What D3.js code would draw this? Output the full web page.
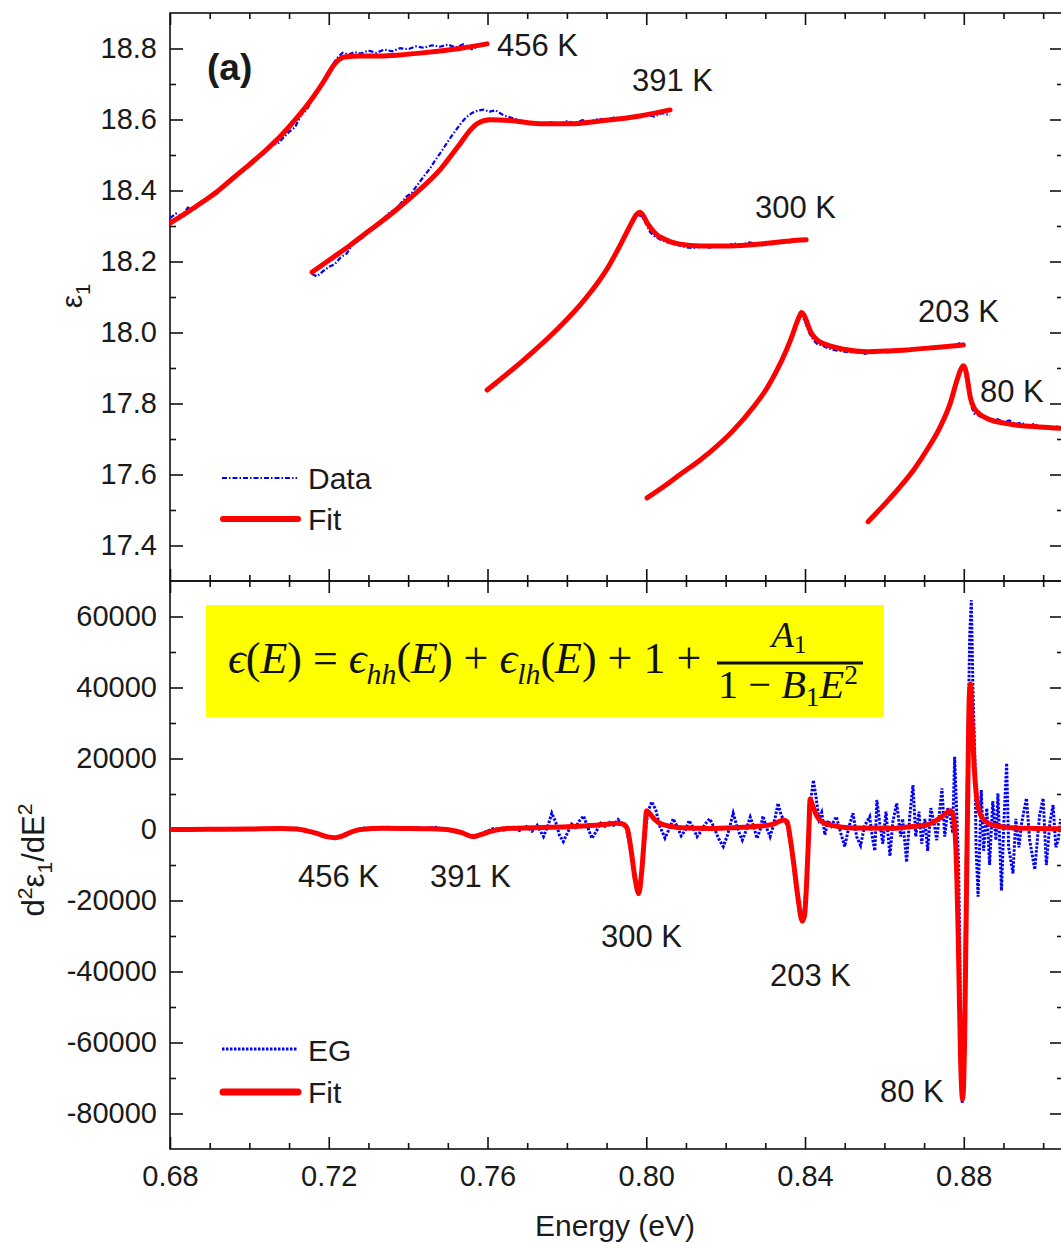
<!DOCTYPE html>
<html>
<head>
<meta charset="utf-8">
<script src="https://cdn.jsdelivr.net/npm/d3@7"></script>
<style>
    html, body { margin: 0; padding: 0; background: #fff; }
    svg { display: block; font-family: "Liberation Sans", Arial, sans-serif; }
    text { white-space: pre; }
</style>
</head>
<body>
<div id="chart"></div>
<script>
// ---- Top panel: eps1 data and fits, [energy eV, eps1] ----
const data456 = [
    [0.680, 18.322], [0.6815, 18.335], [0.683, 18.328], [0.6845, 18.352], [0.686, 18.345], [0.6875, 18.368],
    [0.689, 18.372], [0.6905, 18.384], [0.692, 18.392], [0.6935, 18.412], [0.695, 18.423], [0.6965, 18.445],
    [0.698, 18.448], [0.6995, 18.470], [0.701, 18.478], [0.7025, 18.495], [0.704, 18.505], [0.7055, 18.532],
    [0.707, 18.530], [0.7085, 18.548], [0.710, 18.565], [0.7115, 18.578], [0.713, 18.612], [0.7145, 18.628],
    [0.716, 18.660], [0.7175, 18.690], [0.719, 18.718], [0.7205, 18.745], [0.722, 18.772], [0.7235, 18.788],
    [0.725, 18.783], [0.7265, 18.790], [0.728, 18.786], [0.730, 18.794], [0.732, 18.788], [0.734, 18.797],
    [0.736, 18.792], [0.738, 18.801], [0.740, 18.798], [0.742, 18.806], [0.744, 18.802], [0.746, 18.809],
    [0.748, 18.805], [0.750, 18.811], [0.752, 18.803], [0.754, 18.812], [0.756, 18.798], [0.758, 18.808],
    [0.7599, 18.815]
];
const fit456 = [
    [0.680, 18.308], [0.684, 18.336], [0.688, 18.366], [0.692, 18.398], [0.696, 18.436], [0.700, 18.473],
    [0.704, 18.512], [0.708, 18.555], [0.712, 18.605], [0.716, 18.662], [0.719, 18.712], [0.7212, 18.752],
    [0.7225, 18.768], [0.724, 18.776], [0.728, 18.779], [0.733, 18.779], [0.738, 18.782], [0.743, 18.787],
    [0.748, 18.793], [0.753, 18.800], [0.7599, 18.813]
];
const data391 = [
    [0.7158, 18.165], [0.717, 18.158], [0.7185, 18.172], [0.720, 18.185], [0.7215, 18.192], [0.723, 18.212],
    [0.7245, 18.222], [0.726, 18.248], [0.7275, 18.258], [0.729, 18.272], [0.7305, 18.290], [0.732, 18.302],
    [0.7335, 18.318], [0.735, 18.335], [0.7365, 18.345], [0.738, 18.362], [0.7395, 18.382], [0.741, 18.395],
    [0.7425, 18.418], [0.744, 18.440], [0.7455, 18.462], [0.747, 18.488], [0.7485, 18.512], [0.750, 18.538],
    [0.7515, 18.562], [0.753, 18.585], [0.7545, 18.605], [0.756, 18.618], [0.7575, 18.625], [0.759, 18.628],
    [0.7605, 18.622], [0.762, 18.626], [0.764, 18.612], [0.766, 18.605], [0.768, 18.598], [0.770, 18.592],
    [0.772, 18.590], [0.774, 18.585], [0.776, 18.592], [0.778, 18.587], [0.780, 18.595], [0.782, 18.590],
    [0.784, 18.598], [0.786, 18.594], [0.788, 18.602], [0.790, 18.598], [0.792, 18.606], [0.794, 18.602],
    [0.796, 18.610], [0.798, 18.605], [0.800, 18.614], [0.802, 18.608], [0.804, 18.618], [0.806, 18.612]
];
const fit391 = [
    [0.7158, 18.170], [0.7205, 18.207], [0.7254, 18.246], [0.730, 18.285], [0.7354, 18.331], [0.740, 18.374],
    [0.743, 18.403], [0.748, 18.458], [0.7531, 18.532], [0.7555, 18.568], [0.7575, 18.589], [0.7606, 18.599],
    [0.7657, 18.597], [0.7732, 18.588], [0.7808, 18.588], [0.7884, 18.596], [0.7984, 18.610], [0.806, 18.627]
];
const data300 = [
    [0.7605, 17.842], [0.762, 17.850], [0.7635, 17.868], [0.765, 17.888], [0.7665, 17.900], [0.768, 17.912],
    [0.7695, 17.925], [0.771, 17.938], [0.7725, 17.955], [0.774, 17.970], [0.7755, 17.985], [0.777, 18.002],
    [0.7785, 18.018], [0.780, 18.038], [0.7815, 18.055], [0.783, 18.075], [0.7845, 18.095], [0.786, 18.118],
    [0.7875, 18.138], [0.789, 18.162], [0.7905, 18.188], [0.792, 18.218], [0.7935, 18.250], [0.795, 18.282],
    [0.7965, 18.312], [0.7978, 18.332], [0.799, 18.326], [0.800, 18.305], [0.801, 18.282], [0.802, 18.272],
    [0.8035, 18.262], [0.805, 18.255], [0.8065, 18.250], [0.808, 18.246], [0.810, 18.240], [0.812, 18.238],
    [0.814, 18.242], [0.816, 18.239], [0.818, 18.246], [0.820, 18.243], [0.822, 18.251], [0.824, 18.247],
    [0.826, 18.254], [0.828, 18.249], [0.830, 18.255], [0.832, 18.252], [0.834, 18.258], [0.836, 18.254],
    [0.838, 18.260], [0.840, 18.258]
];
const fit300 = [
    [0.7599, 17.838], [0.764, 17.875], [0.7682, 17.914], [0.772, 17.951], [0.7758, 17.990], [0.7795, 18.031],
    [0.7833, 18.077], [0.786, 18.114], [0.7884, 18.150], [0.7905, 18.186], [0.7921, 18.218], [0.7937, 18.252],
    [0.7952, 18.285], [0.7965, 18.313], [0.7975, 18.332], [0.7984, 18.339], [0.7992, 18.330], [0.8002, 18.309],
    [0.8015, 18.289], [0.8028, 18.274], [0.804, 18.266], [0.806, 18.256], [0.8085, 18.249], [0.8136, 18.244],
    [0.8211, 18.244], [0.8287, 18.249], [0.8362, 18.258], [0.8403, 18.261]
];
const data203 = [
    [0.8005, 17.538], [0.802, 17.548], [0.8035, 17.556], [0.805, 17.570], [0.8065, 17.580], [0.808, 17.596],
    [0.8095, 17.605], [0.811, 17.620], [0.8125, 17.630], [0.814, 17.645], [0.8155, 17.655], [0.817, 17.672],
    [0.8185, 17.688], [0.820, 17.702], [0.8215, 17.722], [0.823, 17.738], [0.8245, 17.755], [0.826, 17.775],
    [0.8275, 17.798], [0.829, 17.820], [0.8305, 17.845], [0.832, 17.875], [0.8335, 17.905], [0.835, 17.942],
    [0.8365, 17.985], [0.8378, 18.025], [0.839, 18.050], [0.840, 18.030], [0.841, 18.000], [0.842, 17.980],
    [0.843, 17.968], [0.8445, 17.962], [0.846, 17.955], [0.8475, 17.950], [0.849, 17.948], [0.851, 17.944],
    [0.853, 17.946], [0.855, 17.940], [0.857, 17.945], [0.859, 17.948], [0.861, 17.944], [0.863, 17.952],
    [0.865, 17.948], [0.867, 17.956], [0.869, 17.952], [0.871, 17.958], [0.873, 17.955], [0.875, 17.962],
    [0.877, 17.960], [0.879, 17.970], [0.880, 17.968]
];
const fit203 = [
    [0.8002, 17.534], [0.8045, 17.567], [0.8085, 17.600], [0.8136, 17.641], [0.8186, 17.688], [0.822, 17.725],
    [0.827, 17.790], [0.8304, 17.843], [0.8329, 17.893], [0.8354, 17.953], [0.8367, 17.989], [0.8379, 18.027],
    [0.8386, 18.046], [0.8391, 18.056], [0.8397, 18.050], [0.8404, 18.032], [0.8412, 18.007], [0.8421, 17.990],
    [0.8435, 17.975], [0.8455, 17.965], [0.8497, 17.953], [0.8556, 17.946], [0.861, 17.948], [0.8657, 17.951],
    [0.873, 17.958], [0.8799, 17.965]
];
const data80 = [
    [0.8562, 17.475], [0.8575, 17.490], [0.859, 17.502], [0.8605, 17.520], [0.862, 17.538], [0.8635, 17.560],
    [0.865, 17.578], [0.8665, 17.600], [0.868, 17.622], [0.8695, 17.648], [0.871, 17.675], [0.8725, 17.700],
    [0.874, 17.732], [0.8755, 17.768], [0.877, 17.812], [0.8782, 17.858], [0.879, 17.888], [0.880, 17.900],
    [0.881, 17.850], [0.8818, 17.795], [0.8826, 17.772], [0.8835, 17.768], [0.8845, 17.760], [0.8855, 17.758],
    [0.887, 17.752], [0.8885, 17.756], [0.890, 17.748], [0.8915, 17.752], [0.893, 17.742], [0.8945, 17.746],
    [0.896, 17.738], [0.8975, 17.742], [0.899, 17.735], [0.9005, 17.738], [0.902, 17.732], [0.9035, 17.735],
    [0.905, 17.730]
];
const fit80 = [
    [0.8559, 17.467], [0.8606, 17.523], [0.864, 17.566], [0.8675, 17.615], [0.8707, 17.669], [0.8741, 17.735],
    [0.8766, 17.801], [0.8783, 17.866], [0.8792, 17.895], [0.8799, 17.906], [0.8805, 17.893], [0.881, 17.862],
    [0.8816, 17.820], [0.8824, 17.792], [0.8833, 17.777], [0.885, 17.763], [0.8867, 17.754], [0.890, 17.745],
    [0.8934, 17.739], [0.899, 17.734], [0.905, 17.730]
];
const topData = [data456, data391, data300, data203, data80];
const topFits = [fit456, fit391, fit300, fit203, fit80];

// ---- Bottom panel: second derivative, [energy eV, d2eps/dE2] ----
const egData = [
    [0.680, 0], [0.686, 150], [0.692, -100], [0.698, 300], [0.702, 100], [0.706, 400], [0.710, 200],
    [0.7135, -200], [0.716, -900], [0.719, -2000], [0.7216, -2500], [0.724, -1300], [0.7265, -200],
    [0.729, 400], [0.732, 200], [0.735, 600], [0.738, 100], [0.741, 500], [0.744, 300], [0.747, 600],
    [0.750, -200], [0.7535, -1000], [0.7564, -2200], [0.759, -900], [0.7615, 300], [0.764, -200], [0.766, 500],
    [0.768, -300], [0.7698, 800], [0.7712, -500], [0.7725, 1200], [0.7741, -2000], [0.7752, 1000],
    [0.7762, 4600], [0.7772, 2000], [0.7781, -1500], [0.7791, -3400], [0.7802, -800], [0.7812, 1500],
    [0.7822, 600], [0.7832, 2500], [0.7842, 3800], [0.7852, 800], [0.7863, -2500], [0.7874, -500],
    [0.7885, 1800], [0.7896, 900], [0.7907, 2000], [0.7918, 1200], [0.7929, 2800], [0.794, 1600], [0.795, 200],
    [0.796, -5500], [0.797, -13500], [0.798, -18500], [0.7988, -13000], [0.7996, -2500], [0.8004, 5000],
    [0.8014, 7800], [0.8024, 5500], [0.8034, 1000], [0.8047, -2400], [0.8058, 200], [0.8068, 3000],
    [0.8078, 800], [0.8088, -1800], [0.8098, -300], [0.8108, 2500], [0.8118, 500], [0.8128, -2000],
    [0.8138, -500], [0.8148, 1500], [0.816, 3000], [0.817, 800], [0.8182, -2500], [0.8194, -4800],
    [0.8205, -1500], [0.8212, 1500], [0.8219, 4600], [0.8228, 1000], [0.8236, -1500], [0.8242, -3000],
    [0.825, -800], [0.8256, 1500], [0.8262, 3500], [0.827, 1000], [0.8279, -2500], [0.8287, 0],
    [0.8294, 3800], [0.8303, 500], [0.8312, -2000], [0.832, 1000], [0.8326, 4000], [0.8332, 7400],
    [0.834, 4000], [0.8348, 2500], [0.8356, 1000], [0.8366, -6000], [0.8376, -15500], [0.8386, -23500],
    [0.8395, -26000], [0.8402, -17000], [0.8409, -3000], [0.8416, 9500], [0.8421, 13900], [0.8428, 9000],
    [0.8435, 3000], [0.8442, 4800], [0.845, -1500], [0.8458, 2500], [0.8466, 1000], [0.8479, 3600],
    [0.849, -1000], [0.850, -4800], [0.851, 500], [0.8521, 4600], [0.853, -2000], [0.854, -4500],
    [0.855, 1000], [0.8563, 3600], [0.857, -2500], [0.8576, -6000], [0.8581, 8300], [0.8588, 2000],
    [0.8596, -4000], [0.8604, 5000], [0.8614, -7500], [0.8621, 2000], [0.8631, 7400], [0.8641, -2000],
    [0.8646, 3000], [0.8656, -9200], [0.8664, 4000], [0.8672, 12500], [0.8679, -2000], [0.8687, 5000],
    [0.8694, -4000], [0.8702, 3000], [0.8709, -6000], [0.8717, 6000], [0.8725, 2000], [0.8732, -3000],
    [0.8745, 11600], [0.8752, -2000], [0.876, 6000], [0.8767, 3000], [0.8772, -1000], [0.8777, 20500],
    [0.8782, 5000], [0.8787, -10000], [0.8792, -50000], [0.8796, -77000], [0.880, -60000], [0.8805, -20000],
    [0.881, 20000], [0.8815, 55000], [0.8819, 64600], [0.8823, 40000], [0.8828, 20000], [0.8831, -5000],
    [0.8836, -18900], [0.884, -5000], [0.8844, 11100], [0.885, -6000], [0.8858, 6000], [0.8865, -10000],
    [0.8873, 8000], [0.8881, -3000], [0.8886, 10200], [0.8895, -17200], [0.8901, 2000], [0.8908, 18700],
    [0.8913, -5000], [0.8924, -12400], [0.8931, 3000], [0.8939, -5000], [0.8946, 2000], [0.8958, 8800],
    [0.8966, -3000], [0.8979, -11300], [0.8986, -2000], [0.8991, 4000], [0.900, 8800], [0.9008, -10000],
    [0.9017, 2000], [0.9025, 6900], [0.9032, -5000], [0.9038, -2900], [0.9044, 3000]
];
const egFit = [
    [0.680, 0], [0.690, 50], [0.700, 150], [0.708, 250], [0.712, 150], [0.7145, -400], [0.717, -1100],
    [0.7195, -2000], [0.7216, -2300], [0.7235, -1800], [0.7255, -800], [0.728, 0], [0.7338, 330],
    [0.740, 300], [0.746, 200], [0.7506, -150], [0.7535, -900], [0.7564, -2000], [0.7585, -1400],
    [0.7606, -600], [0.7649, 300], [0.7673, 350], [0.775, 600], [0.7842, 1000], [0.7895, 1400],
    [0.7926, 1750], [0.7942, 1500], [0.7952, 300], [0.7962, -6000], [0.7972, -14000], [0.7981, -18000],
    [0.7988, -12500], [0.7995, -2500], [0.8001, 5300], [0.8008, 4600], [0.8018, 3200], [0.803, 2000],
    [0.806, 900], [0.810, 400], [0.816, 300], [0.822, 500], [0.828, 900], [0.832, 1500], [0.8346, 2700],
    [0.8355, 2200], [0.8362, -2000], [0.8372, -10000], [0.8382, -19000], [0.8393, -25800], [0.8399, -24000],
    [0.8404, -15000], [0.8409, -2000], [0.8413, 8600], [0.8419, 6800], [0.8428, 4200], [0.844, 2400],
    [0.847, 1100], [0.852, 450], [0.8623, 350], [0.8665, 800], [0.8707, 1300], [0.8741, 3300],
    [0.8757, 4700], [0.8766, 5300], [0.8773, 4200], [0.878, -5000], [0.8786, -30000], [0.8792, -65000],
    [0.8797, -76000], [0.8802, -60000], [0.8806, -25000], [0.881, 10000], [0.8814, 38000], [0.8817, 41000],
    [0.8821, 30000], [0.8826, 18000], [0.8832, 9500], [0.8841, 4500], [0.8855, 2200], [0.8875, 1200],
    [0.892, 500], [0.898, 300], [0.905, 200]
];

// ---- Ticks and labels ----
const xMajorTicks = [0.68, 0.72, 0.76, 0.80, 0.84, 0.88];
const xMinorTicks = [0.69, 0.70, 0.71, 0.73, 0.74, 0.75, 0.77, 0.78, 0.79, 0.81, 0.82, 0.83, 0.85, 0.86, 0.87, 0.89, 0.90];
const topMajorTicks = [17.4, 17.6, 17.8, 18.0, 18.2, 18.4, 18.6, 18.8];
const topMinorTicks = [17.5, 17.7, 17.9, 18.1, 18.3, 18.5, 18.7];
const botMajorTicks = [-80000, -60000, -40000, -20000, 0, 20000, 40000, 60000];
const botMinorTicks = [-70000, -50000, -30000, -10000, 10000, 30000, 50000];
const tempLabels = ['456 K', '391 K', '300 K', '203 K', '80 K'];
const topLegend = ['Data', 'Fit'];
const botLegend = ['EG', 'Fit'];

// ---- Layout ----
const width = 1061, height = 1243;
const plotLeft = 170, plotRight = 1063;
const topY0 = 13, midY = 581, botY1 = 1149;
const topLabelPos = [[497, 56], [632, 91], [755, 218], [918, 322], [980, 402]];
const botLabelPos = [[298, 887], [430, 887], [601, 947], [770, 986], [880, 1102]];
const textColor = '#1a1a1a';
const blue = '#0000ff', red = '#ff0000';

const x = d3.scaleLinear().domain([0.68, 0.905]).range([plotLeft, plotRight]);
const yTop = d3.scaleLinear().domain([17.3, 18.9]).range([midY, topY0]);
const yBot = d3.scaleLinear().domain([-90000, 70000]).range([botY1, midY]);

const svg = d3.select('#chart')
    .append('svg')
    .attr('width', width)
    .attr('height', height);

// clip paths per panel
const defs = svg.append('defs');
defs.append('clipPath').attr('id', 'clipTop')
    .append('rect').attr('x', plotLeft).attr('y', topY0).attr('width', plotRight - plotLeft).attr('height', midY - topY0);
defs.append('clipPath').attr('id', 'clipBot')
    .append('rect').attr('x', plotLeft).attr('y', midY).attr('width', plotRight - plotLeft).attr('height', botY1 - midY);

// axis helper: draws ticks only, frame drawn separately
function tickAxis(axisFn, scale, values, size, translate, fmt, pad) {
    const axis = axisFn(scale)
        .tickValues(values)
        .tickSizeInner(size)
        .tickSizeOuter(0)
        .tickPadding(pad || 0)
        .tickFormat(fmt || (() => ''));
    const g = svg.append('g')
        .attr('transform', translate)
        .call(axis);
    g.select('.domain').remove();
    g.selectAll('.tick line').attr('stroke', '#111').attr('stroke-width', 1.6);
    g.selectAll('.tick text')
        .attr('font-size', 29)
        .attr('fill', textColor)
        .attr('font-family', '"Liberation Sans", Arial, sans-serif');
    return g;
}

function drawPanel(yScale, y0, y1, major, minor, fmt, showXLabels) {
    // vertical axes
    tickAxis(d3.axisLeft, yScale, major, -13, `translate(${plotLeft},0)`, fmt, 13);
    tickAxis(d3.axisLeft, yScale, minor, -6, `translate(${plotLeft},0)`);
    tickAxis(d3.axisRight, yScale, major, -13, `translate(${plotRight},0)`);
    tickAxis(d3.axisRight, yScale, minor, -6, `translate(${plotRight},0)`);
    // horizontal axes
    tickAxis(d3.axisTop, x, xMajorTicks, -12, `translate(0,${y0})`);
    tickAxis(d3.axisTop, x, xMinorTicks, -6, `translate(0,${y0})`);
    tickAxis(d3.axisBottom, x, xMajorTicks, -12, `translate(0,${y1})`,
        showXLabels ? d3.format('.2f') : null, 16);
    tickAxis(d3.axisBottom, x, xMinorTicks, -6, `translate(0,${y1})`);

    svg.append('rect')
        .attr('x', plotLeft)
        .attr('y', y0)
        .attr('width', plotRight - plotLeft)
        .attr('height', y1 - y0)
        .attr('fill', 'none')
        .attr('stroke', '#111')
        .attr('stroke-width', 1.6);
}

drawPanel(yTop, topY0, midY, topMajorTicks, topMinorTicks, d3.format('.1f'), false);
drawPanel(yBot, midY, botY1, botMajorTicks, botMinorTicks, d => String(d), true);

// ---- Curves ----
const lineTop = d3.line().x(d => x(d[0])).y(d => yTop(d[1]));
const fitTop = d3.line().x(d => x(d[0])).y(d => yTop(d[1])).curve(d3.curveMonotoneX);
const lineBot = d3.line().x(d => x(d[0])).y(d => yBot(d[1]));
const fitBot = d3.line().x(d => x(d[0])).y(d => yBot(d[1])).curve(d3.curveMonotoneX);

const topLayer = svg.append('g').attr('clip-path', 'url(#clipTop)');
topLayer.selectAll('path.data')
    .data(topData)
    .enter()
    .append('path')
    .attr('class', 'data')
    .attr('d', lineTop)
    .attr('fill', 'none')
    .attr('stroke', blue)
    .attr('stroke-width', 2.2)
    .attr('stroke-dasharray', '5,2,1.5,2');
topLayer.selectAll('path.fit')
    .data(topFits)
    .enter()
    .append('path')
    .attr('class', 'fit')
    .attr('d', fitTop)
    .attr('fill', 'none')
    .attr('stroke', red)
    .attr('stroke-width', 5)
    .attr('stroke-linecap', 'round')
    .attr('stroke-linejoin', 'round');

const botLayer = svg.append('g').attr('clip-path', 'url(#clipBot)');
botLayer.append('path')
    .attr('d', lineBot(egData))
    .attr('fill', 'none')
    .attr('stroke', blue)
    .attr('stroke-width', 3)
    .attr('stroke-dasharray', '2.5,1.5');
botLayer.append('path')
    .attr('d', fitBot(egFit))
    .attr('fill', 'none')
    .attr('stroke', red)
    .attr('stroke-width', 5)
    .attr('stroke-linecap', 'round')
    .attr('stroke-linejoin', 'round');

// ---- Temperature labels ----
function addLabels(pos) {
    tempLabels.forEach((t, i) => {
        svg.append('text')
            .attr('x', pos[i][0])
            .attr('y', pos[i][1])
            .attr('font-size', 31)
            .attr('fill', textColor)
            .text(t);
    });
}
addLabels(topLabelPos);
addLabels(botLabelPos);

svg.append('text')
    .attr('x', 207)
    .attr('y', 80)
    .attr('font-size', 37)
    .attr('font-weight', 'bold')
    .attr('fill', textColor)
    .text('(a)');

// ---- Legends ----
function addLegend(labels, y1, y2, dash, blueWidth, redWidth, textY1, textY2) {
    svg.append('line')
        .attr('x1', 222).attr('x2', 297).attr('y1', y1).attr('y2', y1)
        .attr('stroke', blue).attr('stroke-width', blueWidth)
        .attr('stroke-dasharray', dash);
    svg.append('line')
        .attr('x1', 223).attr('x2', 298).attr('y1', y2).attr('y2', y2)
        .attr('stroke', red).attr('stroke-width', redWidth)
        .attr('stroke-linecap', 'round');
    svg.append('text').attr('x', 308).attr('y', textY1)
        .attr('font-size', 30).attr('fill', textColor).text(labels[0]);
    svg.append('text').attr('x', 308).attr('y', textY2)
        .attr('font-size', 30).attr('fill', textColor).text(labels[1]);
}
addLegend(topLegend, 478, 519, '5,2,1.5,2', 2.2, 6, 489, 530);
addLegend(botLegend, 1049, 1092, '2.5,1.5', 3, 7, 1061, 1103);

// ---- Axis titles ----
function addRich(textSel, parts, size, subShift, supShift) {
    let offset = 0;
    parts.forEach(p => {
        const target = p.sub ? (subShift || 0.25) * size : p.sup ? -(supShift || 0.4) * size : 0;
        textSel.append('tspan')
            .attr('dy', target - offset)
            .attr('font-size', (p.sub || p.sup) ? size * 0.68 : size)
            .attr('font-style', p.i ? 'italic' : 'normal')
            .text(p.t);
        offset = target;
    });
}

svg.append('text')
    .attr('x', 615)
    .attr('y', 1236)
    .attr('text-anchor', 'middle')
    .attr('font-size', 30)
    .attr('fill', textColor)
    .text('Energy (eV)');

const yTitleTop = svg.append('text')
    .attr('transform', 'translate(82,296) rotate(-90)')
    .attr('text-anchor', 'middle')
    .attr('fill', textColor);
addRich(yTitleTop, [{ t: 'ε' }, { t: '1', sub: true }], 30);

const yTitleBot = svg.append('text')
    .attr('transform', 'translate(44,860) rotate(-90)')
    .attr('text-anchor', 'middle')
    .attr('fill', textColor);
addRich(yTitleBot, [
    { t: 'd' }, { t: '2', sup: true }, { t: 'ε' }, { t: '1', sub: true },
    { t: '/dE' }, { t: '2', sup: true }
], 31);

// ---- Formula box ----
const serif = '"Liberation Serif", "DejaVu Serif", serif';
svg.append('rect')
    .attr('x', 206).attr('y', 605)
    .attr('width', 678).attr('height', 112)
    .attr('fill', '#ffff00');

const eqMain = [
    { t: 'ϵ', i: true }, { t: '(' }, { t: 'E', i: true }, { t: ') = ' },
    { t: 'ϵ', i: true }, { t: 'hh', i: true, sub: true }, { t: '(' }, { t: 'E', i: true }, { t: ') + ' },
    { t: 'ϵ', i: true }, { t: 'lh', i: true, sub: true }, { t: '(' }, { t: 'E', i: true }, { t: ') + 1 +' }
];
const eqNum = [{ t: 'A', i: true }, { t: '1', sub: true }];
const eqDen = [{ t: '1 − ' }, { t: 'B', i: true }, { t: '1', sub: true }, { t: 'E', i: true }, { t: '2', sup: true }];

// render a formula piece and scale its font so it spans targetWidth
function fitText(xPos, yPos, parts, targetWidth, anchor, subShift, supShift) {
    const t = svg.append('text')
        .attr('x', xPos).attr('y', yPos)
        .attr('font-family', serif)
        .attr('text-anchor', anchor)
        .attr('fill', '#111');
    let size = 32;
    for (let k = 0; k < 4; k++) {
        t.selectAll('tspan').remove();
        addRich(t, parts, size, subShift, supShift);
        const w = t.node().getBBox().width;
        if (w > 0) size = Math.max(22, Math.min(44, size * targetWidth / w));
    }
    t.selectAll('tspan').remove();
    addRich(t, parts, size, subShift, supShift);
    return size;
}
fitText(228, 673, eqMain, 475, 'start', 0.25, 0.4);
fitText(789, 647, eqNum, 37, 'middle', 0.15, 0.4);
fitText(788, 698, eqDen, 140, 'middle', 0.2, 0.35);
svg.append('line')
    .attr('x1', 717).attr('x2', 863)
    .attr('y1', 663).attr('y2', 663)
    .attr('stroke', '#111')
    .attr('stroke-width', 3);
</script>
</body>
</html>
